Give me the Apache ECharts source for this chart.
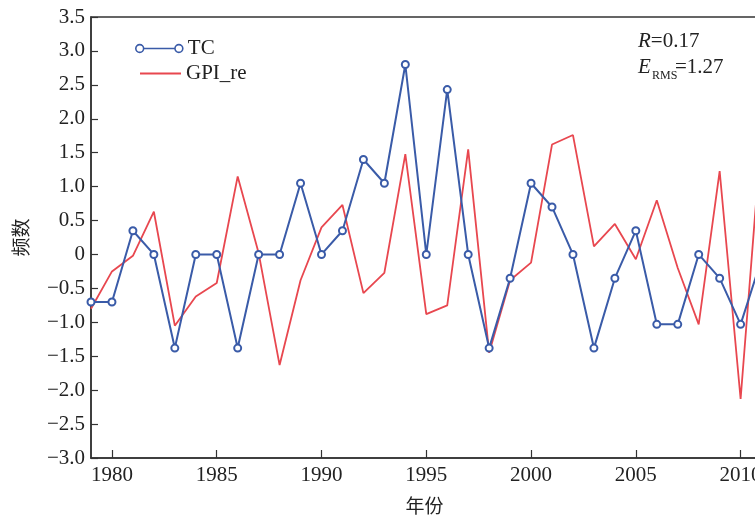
<!DOCTYPE html>
<html><head><meta charset="utf-8">
<script src="https://cdn.jsdelivr.net/npm/echarts@6/dist/echarts.min.js"></script>
<style>html,body{margin:0;padding:0;background:#fff;overflow:hidden}#c{width:755px;height:515px}</style>
</head><body><div id="c"></div>
<script>
const years = [1979,1980,1981,1982,1983,1984,1985,1986,1987,1988,1989,1990,1991,1992,1993,1994,1995,1996,1997,1998,1999,2000,2001,2002,2003,2004,2005,2006,2007,2008,2009,2010,2011];
const tcValues = [-0.7,-0.7,0.35,0,-1.38,0,0,-1.38,0,0,1.05,0,0.35,1.4,1.05,2.8,0,2.43,0,-1.38,-0.35,1.05,0.7,0,-1.38,-0.35,0.35,-1.03,-1.03,0,-0.35,-1.03,-0.07];
const gpiValues = [-0.8,-0.25,-0.02,0.63,-1.05,-0.62,-0.42,1.15,0.02,-1.63,-0.38,0.4,0.73,-0.57,-0.27,1.48,-0.88,-0.75,1.55,-1.45,-0.38,-0.12,1.62,1.76,0.12,0.45,-0.07,0.8,-0.2,-1.03,1.23,-2.13,1.8];
const xTickLabels = [1980,1985,1990,1995,2000,2005,2010];
const seriesNames = ['TC','GPI_re'];

const BLUE = '#3a5ba8', RED = '#e8474f', AX = '#333';
const SERIF = 'Liberation Serif';
const chart = echarts.init(document.getElementById('c'));
const minusFmt = v => v === 0 ? '0' : (v < 0 ? '\u2212' + Math.abs(v).toFixed(1) : v.toFixed(1));

chart.setOption({
  animation: false,
  backgroundColor: '#fff',
  grid: { left: 91, top: 17, right: -3, bottom: 57, outerBoundsMode: 'none', containLabel: false, show: true, borderColor: AX, borderWidth: 1.5, backgroundColor: 'transparent' },
  xAxis: {
    type: 'value', min: 1979, max: 2010.83,
    name: '年份', nameLocation: 'middle', nameGap: 38,
    nameTextStyle: { fontFamily: 'Noto Sans CJK SC', fontSize: 19, color: '#222' },
    axisLine: { onZero: false, lineStyle: { color: AX, width: 1.5 } },
    axisTick: { inside: true, length: 8, lineStyle: { color: AX, width: 1.2 }, customValues: xTickLabels },
    axisLabel: { fontFamily: SERIF, fontSize: 21, color: '#222', margin: 7, customValues: xTickLabels, formatter: v => String(v) },
    splitLine: { show: false }
  },
  yAxis: {
    type: 'value', min: -3, max: 3.5, interval: 0.5,
    name: '频数', nameLocation: 'middle', nameGap: 61, nameRotate: 90,
    nameTextStyle: { fontFamily: 'Noto Sans CJK SC', fontSize: 19, color: '#222' },
    axisLine: { show: true, onZero: false, lineStyle: { color: AX, width: 1.5 } },
    axisTick: { show: true, inside: true, length: 7, lineStyle: { color: AX, width: 1.2 } },
    axisLabel: { fontFamily: SERIF, fontSize: 21, color: '#222', margin: 6, formatter: minusFmt },
    splitLine: { show: false }
  },
  legend: [
    {
      data: [seriesNames[0]], left: 130, top: 33, orient: 'vertical',
      itemWidth: 47, itemHeight: 9,
      icon: 'path://M1,5 A4,4 0 1,0 9,5 A4,4 0 1,0 1,5 Z M9,5 L41,5 M41,5 A4,4 0 1,0 49,5 A4,4 0 1,0 41,5 Z',
      itemStyle: { color: '#fff', borderColor: BLUE, borderWidth: 1.6 },
      textStyle: { fontFamily: SERIF, fontSize: 21, color: '#222' }
    },
    {
      data: [seriesNames[1]], left: 135, top: 58, orient: 'vertical',
      itemWidth: 41, itemHeight: 2, icon: 'rect',
      itemStyle: { color: RED },
      textStyle: { fontFamily: SERIF, fontSize: 21, color: '#222' }
    }
  ],
  graphic: [
    { type: 'text', left: 638, top: 31, style: { text: '{i|R}=0.17', fontFamily: SERIF, fontSize: 21, fill: '#222', rich: { i: { fontFamily: SERIF, fontStyle: 'italic', fontSize: 21, fill: '#222' } } } },
    { type: 'text', left: 638, top: 57, style: { text: 'E', fontFamily: SERIF, fontStyle: 'italic', fontSize: 21, fill: '#222' } },
    { type: 'text', left: 652, top: 70, style: { text: 'RMS', fontFamily: SERIF, fontSize: 12, fill: '#222' } },
    { type: 'text', left: 675, top: 57, style: { text: '=1.27', fontFamily: SERIF, fontSize: 21, fill: '#222' } }
  ],
  series: [
    {
      name: seriesNames[0], type: 'line', data: years.map((y, i) => [y, tcValues[i]]),
      symbol: 'emptyCircle', symbolSize: 7, z: 3,
      lineStyle: { color: BLUE, width: 2 },
      itemStyle: { color: BLUE, borderColor: BLUE, borderWidth: 1.6 }
    },
    {
      name: seriesNames[1], type: 'line', data: years.map((y, i) => [y, gpiValues[i]]),
      symbol: 'none', z: 2,
      lineStyle: { color: RED, width: 1.8 },
      itemStyle: { color: RED }
    }
  ]
});
</script></body></html>
